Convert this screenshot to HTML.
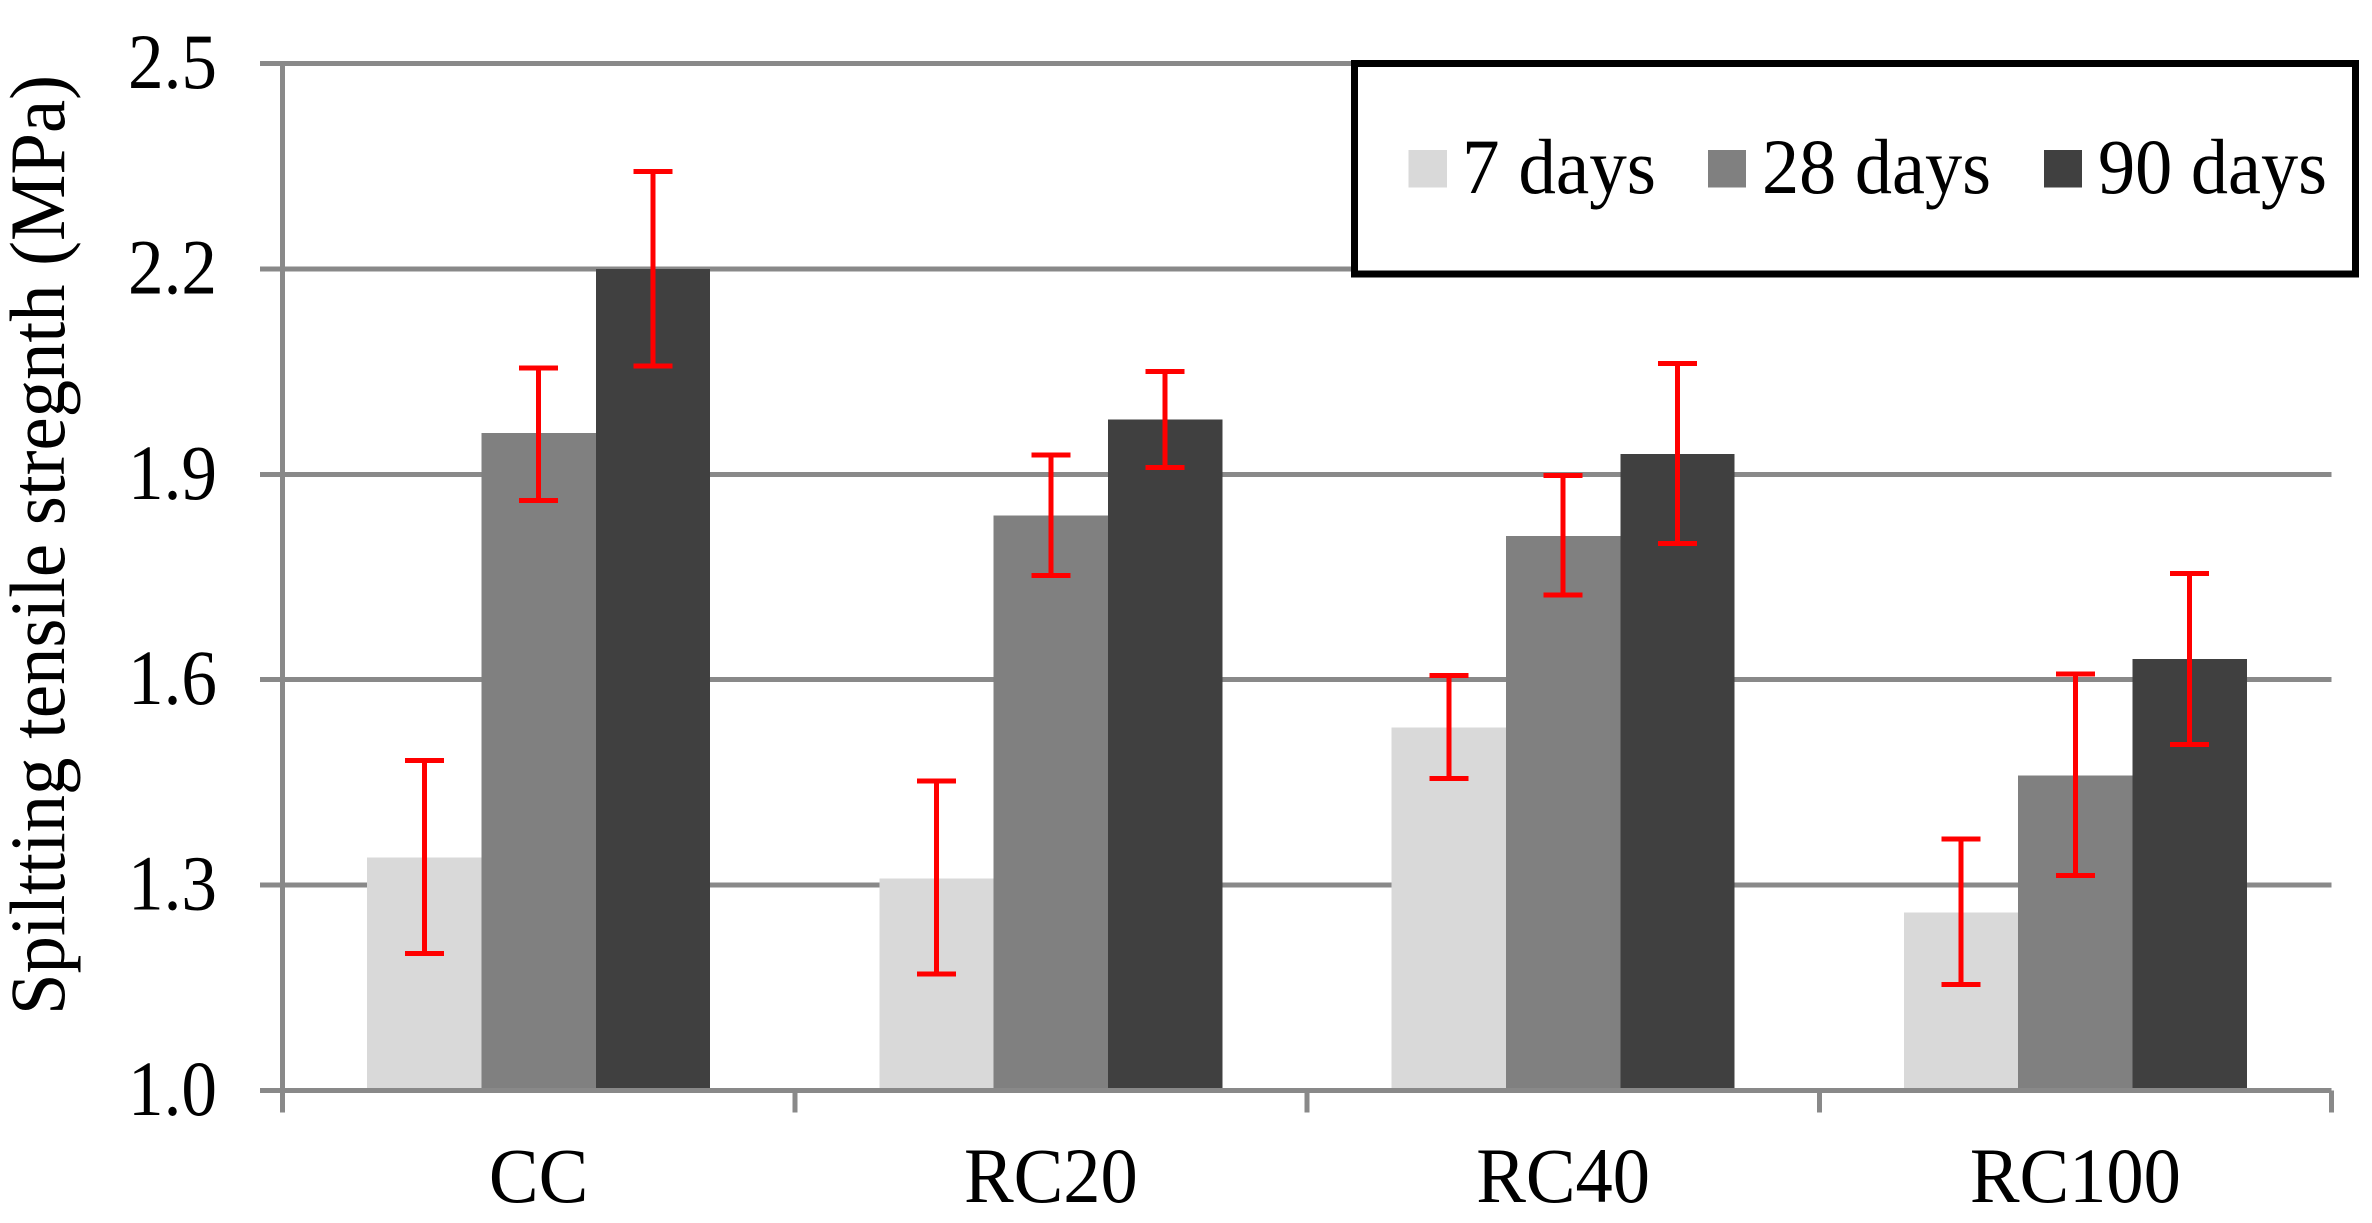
<!DOCTYPE html>
<html>
<head>
<meta charset="utf-8">
<title>Splitting tensile strength</title>
<style>
html,body{margin:0;padding:0;background:#fff;width:2372px;height:1223px;overflow:hidden}
svg{display:block}
text{font-family:"Liberation Serif",serif;fill:#000}
#grid,#bars,#axes,#errors,#legend-shapes{shape-rendering:crispEdges}
</style>
</head>
<body>
<svg id="chart" width="2372" height="1223" viewBox="0 0 2372 1223" xmlns="http://www.w3.org/2000/svg">
  <g id="grid"></g>
  <g id="bars"></g>
  <g id="axes"></g>
  <g id="errors"></g>
  <g id="labels"></g>
  <text transform="translate(64,1015) rotate(-90)" font-size="78" textLength="940" lengthAdjust="spacingAndGlyphs">Spiltting tensile stregnth (MPa)</text>
  <g>
    <g id="legend-shapes">
      <rect x="1354.5" y="63.5" width="1001" height="210.5" fill="#fff" stroke="#000" stroke-width="7"/>
      <rect x="1408.7" y="150" width="38.3" height="37.7" fill="#d9d9d9"/>
      <rect x="1708" y="150" width="38" height="37.7" fill="#808080"/>
      <rect x="2043.8" y="150" width="38.2" height="37.7" fill="#404040"/>
    </g>
    <text x="1462" y="193" font-size="78" textLength="194" lengthAdjust="spacingAndGlyphs">7 days</text>
    <text x="1762" y="193" font-size="78" textLength="229" lengthAdjust="spacingAndGlyphs">28 days</text>
    <text x="2098" y="193" font-size="78" textLength="229" lengthAdjust="spacingAndGlyphs">90 days</text>
  </g>
</svg>
<script>
const categories = ['CC', 'RC20', 'RC40', 'RC100'];
const seriesNames = ['7-days', '28-days', '90-days'];
const days7 = [1.34, 1.31, 1.53, 1.26];
const days28 = [1.96, 1.84, 1.81, 1.46];
const days90 = [2.20, 1.98, 1.93, 1.63];
const days7High = [1.482, 1.452, 1.606, 1.367];
const days7Low = [1.200, 1.170, 1.456, 1.155];
const days28High = [2.055, 1.928, 1.898, 1.608];
const days28Low = [1.862, 1.752, 1.724, 1.314];
const days90High = [2.342, 2.050, 2.062, 1.755];
const days90Low = [2.058, 1.910, 1.799, 1.505];
const yTicks = ['1.0', '1.3', '1.6', '1.9', '2.2', '2.5'];

const NS = 'http://www.w3.org/2000/svg';
const plotLeft = 282.5, plotRight = 2331.5, plotBottom = 1090.5, plotTop = 63.5;
const yMin = 1.0, yMax = 2.5;
const axisColor = '#898989';
const seriesColors = ['#d9d9d9', '#808080', '#404040'];
const seriesValues = [days7, days28, days90];
const seriesHigh = [days7High, days28High, days90High];
const seriesLow = [days7Low, days28Low, days90Low];
const gapRatio = 1.48;

function yPos(v) { return plotBottom - (v - yMin) / (yMax - yMin) * (plotBottom - plotTop); }
function catWidth() { return (plotRight - plotLeft) / categories.length; }
function barWidth() { return catWidth() / (seriesValues.length + gapRatio); }
function barX(c, s) { return plotLeft + catWidth() * c + barWidth() * gapRatio / 2 + barWidth() * s; }

function make(tag, attrs, parent) {
  const el = document.createElementNS(NS, tag);
  for (const k in attrs) el.setAttribute(k, attrs[k]);
  parent.appendChild(el);
  return el;
}

const gridG = document.getElementById('grid');
const barsG = document.getElementById('bars');
const axesG = document.getElementById('axes');
const errG = document.getElementById('errors');
const labG = document.getElementById('labels');

yTicks.forEach(function (t) {
  const v = parseFloat(t);
  const y = yPos(v);
  const line = make('line', { x1: 260, x2: plotRight, y1: y, y2: y, stroke: axisColor, 'stroke-width': 5 }, v === yMin ? axesG : gridG);
  
  
  const label = make('text', { x: 217, y: y + 24.5, 'font-size': 78, 'text-anchor': 'end', textLength: 89, lengthAdjust: 'spacingAndGlyphs' }, labG);
  label.textContent = t;
  
  
});

const yAxisLine = make('line', { x1: plotLeft, x2: plotLeft, y1: plotTop - 2.5, y2: 1112.7, stroke: axisColor, 'stroke-width': 5 }, axesG);



categories.forEach(function (cat, c) {
  const tx = plotLeft + catWidth() * (c + 1);
  const tick = make('line', { x1: tx, x2: tx, y1: plotBottom, y2: 1112.7, stroke: axisColor, 'stroke-width': 5 }, axesG);
  
  

  const label = make('text', { x: plotLeft + catWidth() * (c + 0.5), y: 1202, 'font-size': 78, 'text-anchor': 'middle' }, labG);
  label.textContent = cat;
  
  
  label.setAttribute('textLength', label.getComputedTextLength() * 0.955);
  label.setAttribute('lengthAdjust', 'spacingAndGlyphs');

  seriesValues.forEach(function (vals, s) {
    const x = barX(c, s);
    const w = barWidth();
    const top = yPos(vals[c]);
    const bar = make('rect', { x: x, y: top, width: w, height: plotBottom - top, fill: seriesColors[s] }, barsG);
    
    

    const cx = x + w / 2;
    const hi = yPos(seriesHigh[s][c]);
    const lo = yPos(seriesLow[s][c]);
    const eg = make('g', { stroke: '#ff0000', 'stroke-width': 5 }, errG);
    
    
    make('line', { x1: cx, x2: cx, y1: hi, y2: lo }, eg);
    make('line', { x1: cx - 19.5, x2: cx + 19.5, y1: hi, y2: hi }, eg);
    make('line', { x1: cx - 19.5, x2: cx + 19.5, y1: lo, y2: lo }, eg);
  });
});
</script>
</body>
</html>
